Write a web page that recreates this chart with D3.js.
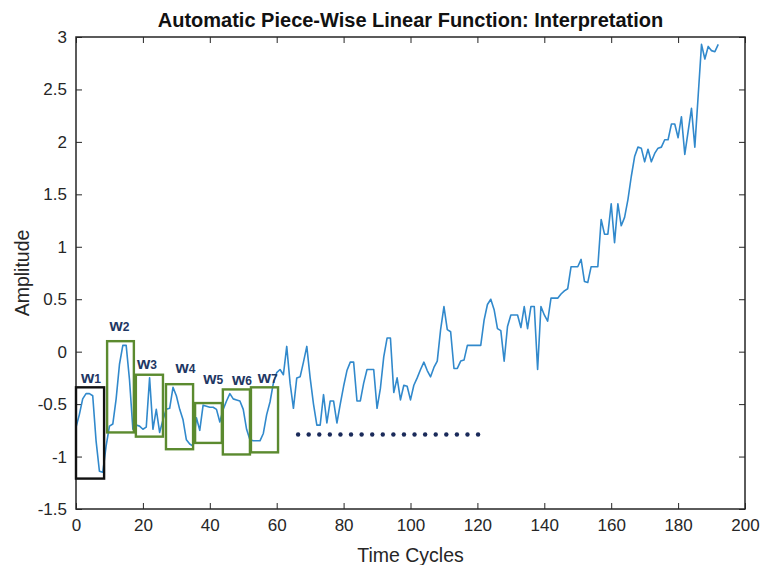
<!DOCTYPE html>
<html>
<head>
<meta charset="utf-8" />
<title>Automatic Piece-Wise Linear Function</title>
<script src="https://cdn.jsdelivr.net/npm/d3@7"></script>
<style>
html, body {
	margin: 0;
	background: #fff;
}
svg text {
	font-family: "Liberation Sans", Arial, sans-serif;
}
</style>
</head>
<body>
<div id="chart"></div>
<script>

// amplitude per time cycle (t = 0 .. 192)
var amplitude = [
	-0.72, -0.60, -0.45, -0.40, -0.40, -0.42, -0.85, -1.14, -1.15, -0.90,
	-0.71, -0.69, -0.45, -0.12, 0.06, 0.06, -0.27, -0.74, -0.70, -0.71,
	-0.74, -0.72, -0.25, -0.74, -0.55, -0.77, -0.65, -0.55, -0.54, -0.34,
	-0.42, -0.55, -0.65, -0.84, -0.88, -0.90, -0.63, -0.75, -0.51, -0.52,
	-0.53, -0.53, -0.55, -0.67, -0.55, -0.47, -0.40, -0.45, -0.46, -0.47,
	-0.55, -0.74, -0.84, -0.85, -0.85, -0.85, -0.78, -0.60, -0.48, -0.30,
	-0.20, -0.17, -0.22, 0.05, -0.30, -0.54, -0.25, -0.24, -0.10, 0.05,
	-0.25, -0.50, -0.70, -0.70, -0.41, -0.68, -0.47, -0.47, -0.68, -0.50,
	-0.33, -0.18, -0.10, -0.10, -0.47, -0.47, -0.30, -0.17, -0.17, -0.17,
	-0.54, -0.35, -0.05, 0.13, 0.13, -0.39, -0.25, -0.46, -0.32, -0.33,
	-0.46, -0.32, -0.25, -0.17, -0.10, -0.18, -0.24, -0.15, -0.09, 0.21,
	0.43, 0.21, 0.19, -0.16, -0.16, -0.09, -0.08, 0.06, 0.06, 0.06,
	0.06, 0.06, 0.30, 0.45, 0.50, 0.40, 0.22, 0.20, -0.09, 0.24,
	0.35, 0.35, 0.35, 0.23, 0.43, 0.22, 0.43, 0.43, -0.17, 0.43,
	0.35, 0.29, 0.51, 0.51, 0.51, 0.55, 0.58, 0.60, 0.81, 0.81,
	0.81, 0.88, 0.67, 0.66, 0.81, 0.81, 0.81, 1.26, 1.12, 1.12,
	1.41, 1.04, 1.41, 1.20, 1.28, 1.45, 1.67, 1.86, 1.95, 1.94,
	1.81, 1.93, 1.81, 1.89, 1.94, 1.95, 2.02, 2.02, 2.17, 2.17,
	2.04, 2.24, 1.88, 2.10, 2.32, 1.95, 2.44, 2.93, 2.79, 2.91,
	2.87, 2.86, 2.93
];

// windows drawn over the first part of the signal
var windowNames = ["w1", "w2", "w3", "w4", "w5", "w6", "w7"];
var windowStart = [0, 9.3, 17.9, 26.9, 35.6, 43.9, 52.3];
var windowEnd   = [8.4, 17.3, 26.0, 35.0, 43.6, 52.0, 60.4];
var windowTop   = [-0.34, 0.10, -0.22, -0.31, -0.49, -0.36, -0.34];
var windowBot   = [-1.21, -0.77, -0.81, -0.93, -0.87, -0.98, -0.96];
var labelT      = [4.5, 13.0, 21.2, 32.7, 41.0, 49.6, 57.3];
var labelV      = [-0.30, 0.20, -0.17, -0.20, -0.31, -0.32, -0.30];

// "and so on" dots
var dotsFrom = 66.4, dotsTo = 120.2, dotsCount = 18, dotsLevel = -0.79;

var xTicks = [0, 20, 40, 60, 80, 100, 120, 140, 160, 180, 200];
var yTicks = [-1.5, -1, -0.5, 0, 0.5, 1, 1.5, 2, 2.5, 3];

var width = 760, height = 565;
var margin = {top: 37, right: 15, bottom: 56, left: 76};
var w = width - margin.left - margin.right;
var h = height - margin.top - margin.bottom;

var svg = d3.select("#chart").append("svg")
	.attr("width", width)
	.attr("height", height);

var g = svg.append("g").attr("transform", "translate(" + margin.left + "," + margin.top + ")");

var x = d3.scaleLinear().domain([0, 200]).range([0, w]);
var y = d3.scaleLinear().domain([-1.5, 3]).range([h, 0]);

var axisColor = "#262626";
var fmt = function(d) { return String(d); };

function styleAxis(sel) {
	sel.selectAll("path").remove();
	sel.selectAll("line").attr("stroke", axisColor).attr("stroke-width", 1);
	sel.selectAll("text").attr("fill", axisColor).style("font-size", "17px");
}

g.append("g")
	.attr("transform", "translate(0," + h + ")")
	.call(d3.axisBottom(x).tickValues(xTicks).tickFormat(fmt).tickSize(-6).tickPadding(10))
	.call(styleAxis);
g.append("g")
	.call(d3.axisTop(x).tickValues(xTicks).tickFormat("").tickSize(-6))
	.call(styleAxis);
g.append("g")
	.call(d3.axisLeft(y).tickValues(yTicks).tickFormat(fmt).tickSize(-6).tickPadding(9))
	.call(styleAxis);
g.append("g")
	.attr("transform", "translate(" + w + ",0)")
	.call(d3.axisRight(y).tickValues(yTicks).tickFormat("").tickSize(-6))
	.call(styleAxis);

g.append("rect")
	.attr("width", w)
	.attr("height", h)
	.attr("fill", "none")
	.attr("stroke", axisColor)
	.attr("stroke-width", 1.5);

// signal
var line = d3.line()
	.x(function(d, i) { return x(i); })
	.y(function(d) { return y(d); });

g.append("path")
	.datum(amplitude)
	.attr("fill", "none")
	.attr("stroke", "#3189cc")
	.attr("stroke-width", 1.6)
	.attr("stroke-linejoin", "round")
	.attr("d", line);

// windows
var idx = d3.range(windowNames.length);
g.selectAll(".win")
	.data(idx)
	.enter().append("rect")
	.attr("class", "win")
	.attr("x", function(i) { return x(windowStart[i]); })
	.attr("y", function(i) { return y(windowTop[i]); })
	.attr("width", function(i) { return x(windowEnd[i]) - x(windowStart[i]); })
	.attr("height", function(i) { return y(windowBot[i]) - y(windowTop[i]); })
	.attr("fill", "none")
	.attr("stroke", function(i) { return i === 0 ? "#111" : "#5b8a2f"; })
	.attr("stroke-width", 2.4);

var labels = g.selectAll(".wlab")
	.data(idx)
	.enter().append("text")
	.attr("class", "wlab")
	.attr("x", function(i) { return x(labelT[i]); })
	.attr("y", function(i) { return y(labelV[i]); })
	.attr("text-anchor", "middle")
	.attr("fill", "#1f3864")
	.attr("font-weight", "bold");
labels.append("tspan")
	.style("font-size", "17px")
	.text(function(i) { return windowNames[i].charAt(0); });
labels.append("tspan")
	.style("font-size", "12px")
	.text(function(i) { return windowNames[i].slice(1); });

// dotted continuation
g.selectAll(".dot")
	.data(d3.range(dotsCount))
	.enter().append("circle")
	.attr("class", "dot")
	.attr("cx", function(k) { return x(dotsFrom + k * (dotsTo - dotsFrom) / (dotsCount - 1)); })
	.attr("cy", y(dotsLevel))
	.attr("r", 2.2)
	.attr("fill", "#1a2a5a");

// titles
svg.append("text")
	.attr("x", margin.left + w / 2)
	.attr("y", 27)
	.attr("text-anchor", "middle")
	.attr("font-weight", "bold")
	.attr("fill", "#111")
	.style("font-size", "20px")
	.text("Automatic Piece-Wise Linear Function: Interpretation");

svg.append("text")
	.attr("x", margin.left + w / 2)
	.attr("y", 562)
	.attr("text-anchor", "middle")
	.attr("fill", axisColor)
	.style("font-size", "19.5px")
	.text("Time Cycles");

svg.append("text")
	.attr("transform", "translate(29," + (margin.top + h / 2) + ") rotate(-90)")
	.attr("text-anchor", "middle")
	.attr("fill", axisColor)
	.style("font-size", "19.5px")
	.text("Amplitude");

</script>
</body>
</html>
